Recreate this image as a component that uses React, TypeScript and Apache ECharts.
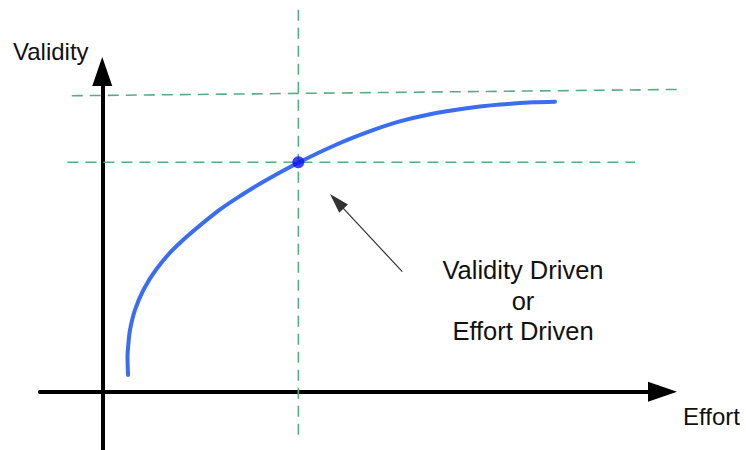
import React, { useEffect, useRef } from "react";
import * as echarts from "echarts";

// Curve: Validity as a function of Effort (abstract units)
const effort = [4.14, 4.06, 4.18, 4.46, 5.26, 6.61, 8.6, 11.82, 18.45, 22.39, 26.37, 31.57, 37.47, 42.82, 47.64, 52.49, 58.55, 63.9, 69.24, 72.73];
const validity = [3.46, 7.17, 9.64, 12.73, 16.86, 20.98, 25.1, 29.9, 37.11, 40.55, 43.64, 47.25, 50.86, 53.6, 55.66, 57.14, 58.42, 59.18, 59.65, 59.79];

// Highlighted operating point
const pointEffort = [31.5];
const pointValidity = [47.3];

// Guide lines
const verticalGuideX = [31.5, 31.5];
const verticalGuideY = [78.7, -9];
const lowerGuideX = [-5.6, 85.6];
const lowerGuideY = [47.3, 47.3];
const upperGuideX = [-4.9, 92.6];
const upperGuideY = [61.0, 62.3];

// Annotation arrow (tail -> head)
const arrowX = [48.2, 37.68];
const arrowY = [24.75, 39.25];

const axisTitles = ["Validity", "Effort"];
const noteLines = ["Validity Driven", "or", "Effort Driven"];

const FONT = "'Liberation Sans', Arial, sans-serif";
const GREEN = "#55ad80";

export default function App() {
  const ref = useRef<HTMLDivElement>(null);

  useEffect(() => {
    if (!ref.current) return;
    const chart = echarts.init(ref.current, undefined, { renderer: "svg" });
    const zip = (xs: number[], ys: number[]) => xs.map((x, i) => [x, ys[i]]);
    const dashed = {
      color: GREEN,
      width: 1.6,
      type: [11, 7] as any,
    };
    const arrowAxisLine = {
      show: true,
      onZero: true,
      symbol: ["none", "triangle"],
      symbolSize: [20, 29],
      lineStyle: { color: "#000", width: 4 },
    };
    chart.setOption({
      animation: false,
      backgroundColor: "#ffffff",
      grid: [
        { left: 40, right: 83.5, top: 71.5, bottom: 0, containLabel: false },
        // same scale, full canvas: used for guide lines that run past the axes
        { left: 0, right: 0, top: 0, bottom: 0, containLabel: false },
      ],
      xAxis: [
        {
          type: "value",
          gridIndex: 0,
          min: -10,
          max: 90,
          splitLine: { show: false },
          axisTick: { show: false },
          axisLabel: { show: false },
          axisLine: arrowAxisLine,
        },
        {
          type: "value",
          gridIndex: 1,
          min: -16.43,
          max: 103.41,
          show: false,
          splitLine: { show: false },
        },
      ],
      yAxis: [
        {
          type: "value",
          gridIndex: 0,
          min: -12,
          max: 66,
          splitLine: { show: false },
          axisTick: { show: false },
          axisLabel: { show: false },
          axisLine: arrowAxisLine,
        },
        {
          type: "value",
          gridIndex: 1,
          min: -12,
          max: 80.73,
          show: false,
          splitLine: { show: false },
        },
      ],
      series: [
        {
          type: "line",
          xAxisIndex: 1,
          yAxisIndex: 1,
          data: zip(verticalGuideX, verticalGuideY),
          symbol: "none",
          clip: false,
          lineStyle: dashed,
          silent: true,
        },
        {
          type: "line",
          xAxisIndex: 1,
          yAxisIndex: 1,
          data: zip(lowerGuideX, lowerGuideY),
          symbol: "none",
          clip: false,
          lineStyle: dashed,
          silent: true,
        },
        {
          type: "line",
          xAxisIndex: 1,
          yAxisIndex: 1,
          data: zip(upperGuideX, upperGuideY),
          symbol: "none",
          clip: false,
          lineStyle: dashed,
          silent: true,
        },
        {
          type: "line",
          data: zip(effort, validity),
          symbol: "none",
          smooth: 0.3,
          clip: false,
          lineStyle: { color: "#3a6df0", width: 4, cap: "round" },
          markLine: {
            silent: true,
            symbol: ["none", "triangle"],
            symbolSize: [12, 20],
            label: { show: false },
            lineStyle: { color: "#333", width: 1.2, type: "solid" },
            data: [
              [
                { coord: [arrowX[0], arrowY[0]] },
                { coord: [arrowX[1], arrowY[1]] },
              ],
            ],
          },
        },
        {
          type: "scatter",
          data: zip(pointEffort, pointValidity),
          symbol: "circle",
          symbolSize: 12,
          itemStyle: { color: "#0a14f0" },
          z: 5,
        },
      ],
      graphic: [
        {
          type: "text",
          x: 13,
          y: 51.5,
          style: {
            text: axisTitles[0],
            fontSize: 24,
            fontFamily: FONT,
            fill: "#111",
            align: "left",
            verticalAlign: "middle",
          },
        },
        {
          type: "text",
          x: 683,
          y: 416,
          style: {
            text: axisTitles[1],
            fontSize: 24,
            fontFamily: FONT,
            fill: "#111",
            align: "left",
            verticalAlign: "middle",
          },
        },
        {
          type: "text",
          x: 523,
          y: 300.5,
          style: {
            text: noteLines.join("\n"),
            fontSize: 25.5,
            lineHeight: 30.5,
            fontFamily: FONT,
            fill: "#111",
            align: "center",
            verticalAlign: "middle",
          },
        },
      ],
    });
    return () => chart.dispose();
  }, []);

  return (
    <div
      ref={ref}
      style={{ position: "fixed", left: 0, top: 0, width: 746, height: 450, background: "#fff" }}
    />
  );
}
